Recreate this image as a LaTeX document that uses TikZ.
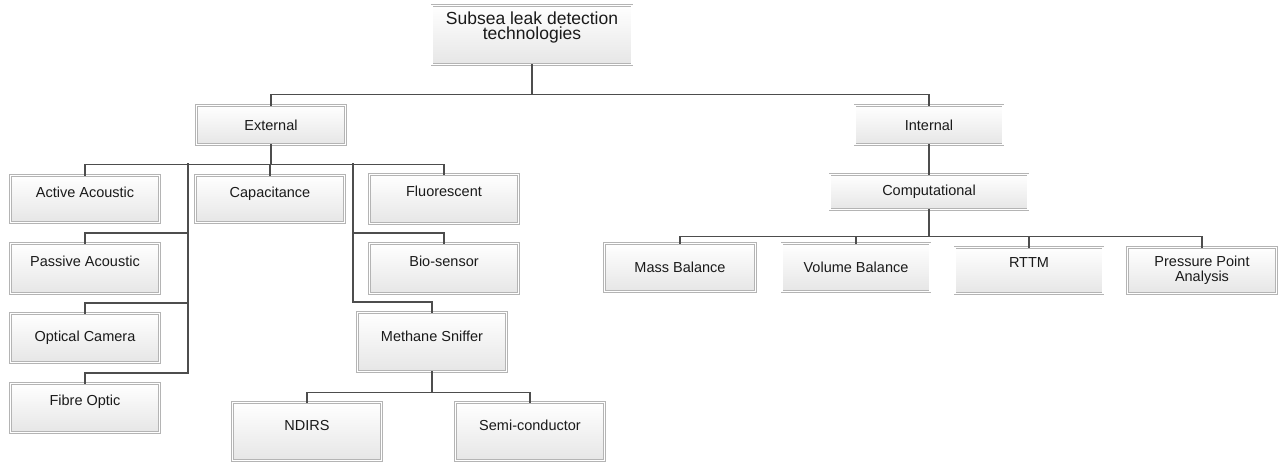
\documentclass[tikz,border=0pt]{standalone}
\usepackage{fontspec}
\setmainfont{Liberation Sans}
\usepackage{xcolor}
\usepackage{tikz}
\usetikzlibrary{calc}
\definecolor{bg}{HTML}{FFFFFF}
\definecolor{edge}{HTML}{B4B4B4}
\definecolor{shade}{HTML}{E6E6E6}
\definecolor{wire}{HTML}{4D4D4D}
\definecolor{ink}{HTML}{1A1A1A}
\tikzset{
  box/.style={rectangle, anchor=north, draw=edge, line width=0.7pt, double=white, double distance=1.1pt,
    top color=white, bottom color=shade, text=ink, inner sep=0pt, minimum width=149pt,
    font=\fontsize{14.5}{14.5}\selectfont},
  link/.style={draw=wire, line width=1.3pt, line cap=rect},
}

\begin{document}
\begin{tikzpicture}[x=1pt,y=-1pt]
  \useasboundingbox[fill=bg] (0,0) rectangle (1283,464);
  % root and first level
  \node[box, minimum width=200pt, text height=34pt, text depth=25pt, align=center,
    font=\fontsize{17.5}{17}\selectfont] (root) at (532,5) {Subsea leak detection\\[-2pt]technologies};
  \node[box, minimum height=39pt] (ext) at (271,105) {External};
  \node[box, minimum width=148pt, minimum height=39pt] (int) at (929,105) {Internal};
  % external branch
  \node[box, text height=22pt, text depth=25pt] (actac) at (85,175) {Active Acoustic};
  \node[box, text height=22pt, text depth=25pt] (cap) at (270,175) {Capacitance};
  \node[box, text height=22pt, text depth=27pt] (fluo) at (444,174) {Fluorescent};
  \node[box, text height=23pt, text depth=27pt] (pasac) at (85,243) {Passive Acoustic};
  \node[box, minimum height=49pt] (optcam) at (85,313) {Optical Camera};
  \node[box, text height=22pt, text depth=27pt] (fibre) at (85,383) {Fibre Optic};
  \node[box, text height=23pt, text depth=27pt] (bio) at (444,243) {Bio-sensor};
  \node[box, text height=29pt, text depth=30pt] (meth) at (432,312) {Methane Sniffer};
  \node[box, text height=28pt, text depth=30pt] (ndirs) at (307,402) {NDIRS};
  \node[box, text height=28pt, text depth=30pt] (semi) at (530,402) {Semi-conductor};
  % internal branch
  \node[box, minimum width=198pt, minimum height=35pt] (comp) at (929,174) {Computational};
  \node[box, minimum width=151pt, minimum height=48pt] (mass) at (680,243) {Mass Balance};
  \node[box, minimum width=148pt, minimum height=48pt] (vol) at (856,243) {Volume Balance};
  \node[box, minimum width=148pt, text height=20pt, text depth=26pt] (rttm) at (1029,247) {RTTM};
  \node[box, minimum height=46pt, align=center] (ppa) at (1202,247) {Pressure Point\\Analysis};
  % trunks
  \coordinate (lt) at (188,164);
  \coordinate (rt) at (353,164);
  % connectors
  \draw[link] (root.south) -- ++(0,30) coordinate (topbus);
  \draw[link] (ext.north) |- (topbus) -| (int.north);
  \draw[link] (ext.south) -- ++(0,20) coordinate (extbus);
  \draw[link] (actac.north) |- (extbus) -| (fluo.north);
  \draw[link] (cap.north) -- (cap.north |- extbus);
  \foreach \n in {pasac,optcam,fibre}{
    \draw[link] (\n.north) -- ++(0,-10) -| (lt);
  }
  \foreach \n in {bio,meth}{
    \draw[link] (\n.north) -- ++(0,-10) -| (rt);
  }
  \draw[link] (meth.south) -- ++(0,21) coordinate (methbus);
  \draw[link] (ndirs.north) |- (methbus) -| (semi.north);
  \draw[link] (int) -- (comp);
  \draw[link] (comp.south) -- ++(0,27) coordinate (compbus);
  \draw[link] (mass.north) |- (compbus) -| (ppa.north);
  \foreach \n in {vol,rttm}{
    \draw[link] (\n.north) -- (\n.north |- compbus);
  }
\end{tikzpicture}
\end{document}
